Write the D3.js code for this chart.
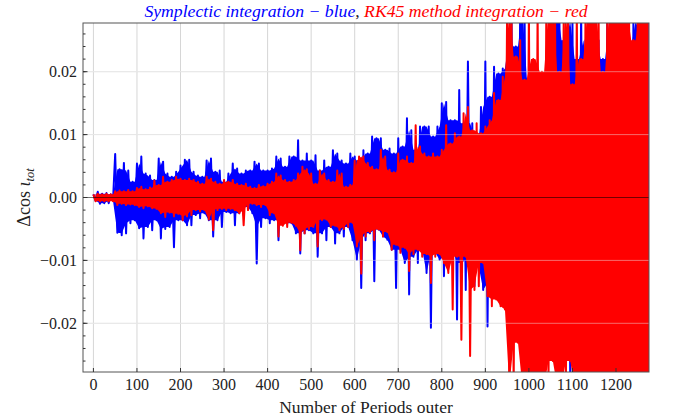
<!DOCTYPE html>
<html>
<head>
<meta charset="utf-8">
<script src="https://cdnjs.cloudflare.com/ajax/libs/d3/7.8.5/d3.min.js"></script>
<style>
body { margin: 0; background: #fff; }
svg text { font-family: "Liberation Serif", "Times New Roman", Tinos, "DejaVu Serif", serif; }
</style>
</head>
<body>
<svg id="chart" width="676" height="420"></svg>
<script>
"use strict";

/** Envelope of the signal per bin of 10 outer periods, values in units of 1e-3. */
var binStarts = d3.range(0, 1280, 10);

var blueHigh = [
    0.5, 0.9, 0.6, 0.7, 0.5, 6.9, 4.5, 5.5, 4.3, 2.5,
    5.4, 6.5, 3.8, 3.5, 2.8, 6.2, 5.7, 3.8, 3.3, 4.1,
    5.1, 6.0, 6.0, 4.1, 3.5, 3.3, 5.9, 6.2, 4.1, 4.3,
    2.5, 3.8, 5.4, 4.6, 3.8, 4.3, 4.3, 5.7, 5.4, 4.3,
    4.3, 4.6, 6.5, 6.2, 4.9, 6.5, 6.5, 9.1, 5.9, 7.0,
    5.9, 6.7, 4.3, 5.9, 4.9, 7.5, 7.0, 5.9, 5.4, 7.0,
    6.5, 5.9, 7.5, 7.0, 9.7, 9.4, 9.4, 7.6, 7.8, 7.0,
    9.4, 8.1, 12.6, 10.7, 7.6, 11.3, 11.3, 11.3, 9.7, 11.3,
    15.0, 15.2, 12.3, 12.3, 17.1, 11.8, 21.6, 11.8, 9.7, 14.4,
    21.6, 16.0, 20.8, 19.7, 20.5, 25.0, 30, 24.0, 30, 30,
    19.2, 14.4, 19.7, 19.2, 21.3, 30, 30, 30, 25, 30,
    28, 22, 30, 25, 20, 30, 25, 22, 28, 30,
    30, 25, 30, 24, 28, 30, 26, 30
];

var blueLow = [
    -0.5, -1.0, -0.9, -0.9, -0.5, -5.6, -6.0, -5.7, -4.1, -3.6,
    -4.9, -6.5, -4.7, -5.2, -3.6, -6.5, -5.0, -4.7, -7.9, -3.6,
    -3.6, -4.4, -4.4, -2.8, -3.3, -2.5, -3.6, -6.2, -3.6, -4.7,
    -2.3, -2.5, -4.4, -2.5, -2.8, -1.5, -2.5, -10.5, -4.7, -3.3,
    -4.1, -3.6, -6.8, -3.6, -4.1, -4.1, -5.7, -8.9, -5.7, -5.2,
    -5.7, -9.4, -5.7, -6.8, -4.7, -7.3, -5.7, -6.2, -4.7, -6.8,
    -9.9, -14.4, -6.8, -5.7, -13.3, -5.1, -6.2, -6.7, -8.3, -14.4,
    -8.3, -10.4, -15.4, -9.4, -10.4, -8.3, -12.0, -20.7, -8.8, -9.9,
    -12.5, -9.4, -8.3, -19.4, -10.4, -14.7, -9.9, -14.1, -11.0, -14.7,
    -20.5, -13.6, -14.7, -12.5, -16.2, -16.2, -18.4, -19.9, -21.0, -20.0,
    -20.5, -18.9, -17.3, -15.0, -18.4, -20, -20, -30, -22, -30,
    -22, -25, -30, -20, -22, -30, -20, -22, -25, -30,
    -30, -25, -30, -25, -25, -30, -28, -30
];

var redHigh = [
    0.5, 0.6, 0.5, 0.6, 0.5, 1.0, 1.1, 1.0, 1.2, 1.0,
    1.5, 1.7, 1.3, 1.6, 2.7, 2.0, 3.3, 2.5, 2.8, 3.3,
    3.0, 2.8, 3.0, 2.8, 2.5, 2.2, 3.3, 3.0, 2.5, 2.2,
    2.8, 2.5, 2.8, 2.2, 2.0, 2.2, 1.7, 1.5, 2.0, 1.8,
    2.2, 2.5, 3.8, 3.5, 2.8, 2.5, 2.8, 3.8, 4.9, 4.5,
    3.8, 2.2, 4.3, 3.8, 2.8, 2.5, 4.3, 3.8, 1.7, 2.0,
    5.9, 6.5, 6.5, 5.5, 4.9, 4.5, 7.6, 6.5, 4.4, 4.0,
    7.0, 6.0, 6.5, 5.5, 11.5, 8.1, 7.0, 6.5, 7.0, 6.5,
    7.6, 11.5, 8.6, 10.2, 9.7, 13.4, 14.4, 10.7, 11.8, 10.2,
    11.3, 12.3, 16.6, 15.5, 19.2, 30, 30, 22.4, 25.0, 18.7,
    30, 22, 30, 20, 30, 30, 30, 20, 30, 30,
    18, 30, 22, 30, 30, 30, 30, 20, 30, 30,
    30, 30, 30, 30, 25, 30, 30, 30
];

var redLow = [
    -0.6, -0.6, -0.6, -0.6, -0.6, -1.2, -1.0, -1.2, -1.1, -1.2,
    -1.5, -1.7, -1.4, -1.7, -1.8, -2.5, -3.1, -2.4, -3.0, -2.6,
    -3.6, -3.0, -2.8, -2.0, -2.2, -2.0, -3.5, -5.2, -2.0, -1.8,
    -2.0, -1.8, -2.0, -2.5, -4.4, -2.0, -1.0, -1.2, -1.5, -1.2,
    -2.8, -2.5, -6.2, -4.5, -4.7, -4.0, -4.5, -8.4, -5.7, -5.0,
    -4.7, -7.8, -3.6, -3.5, -4.7, -4.5, -5.2, -5.0, -4.7, -4.0,
    -7.8, -12.1, -6.2, -5.5, -6.8, -5.1, -6.2, -5.5, -8.3, -7.5,
    -8.8, -8.0, -11.7, -9.0, -8.3, -9.4, -9.0, -13.6, -9.4, -9.0,
    -10.4, -12.0, -17.8, -9.4, -22.6, -9.4, -25.2, -14.7, -14.1, -10.4,
    -15.7, -17.3, -16.2, -17.3, -17.8, -30, -30, -23.1, -30, -30,
    -30, -30, -30, -30, -30, -26, -30, -30, -30, -26,
    -30, -30, -30, -30, -30, -30, -30, -30, -30, -30,
    -30, -30, -30, -30, -30, -30, -30, -30
];

var xTicks = d3.range(0, 1300, 100);
var yTicks = [-0.02, -0.01, 0.00, 0.01, 0.02];
var yMinorTicks = d3.range(-0.026, 0.0261, 0.002);

var MARGIN = { left: 83, top: 23, right: 27, bottom: 48 };
var WIDTH = 676 - MARGIN.left - MARGIN.right;
var HEIGHT = 420 - MARGIN.top - MARGIN.bottom;

var svg = d3.select("#chart");

var xScale = d3.scaleLinear()
    .domain([-23.9, 1275.8])
    .range([0, WIDTH]);

var yScale = d3.scaleLinear()
    .domain([-0.02774, 0.02774])
    .range([HEIGHT, 0]);

var toBins = function(high, low) {
    return binStarts.map(function(n, i) {
        var next = Math.min(high.length - 1, i + 1);
        return {
            n: n,
            hi: high[i] * 1e-3,
            lo: low[i] * 1e-3,
            // solid core: the valley between this peak and the next one
            coreHi: Math.min(high[i], high[next]) * 1e-3,
            coreLo: Math.max(low[i], low[next]) * 1e-3
        };
    });
};

// high point at the start of each bin, low point half a bin later
var toZigzag = function(bins) {
    var pts = [];
    bins.forEach(function(d) {
        pts.push([d.n, d.hi]);
        pts.push([d.n + 5, d.lo]);
    });
    return pts;
};

svg.append("defs").append("clipPath")
    .attr("id", "plot-clip")
    .append("rect")
    .attr("width", WIDTH)
    .attr("height", HEIGHT);

var mainChart = svg.append("g")
    .attr("class", "main-chart")
    .attr("transform", "translate(" + MARGIN.left + "," + MARGIN.top + ")");

// grid behind
var grid = mainChart.append("g").attr("class", "grid");
grid.selectAll("line.vgrid")
    .data(xTicks)
    .enter().append("line")
    .attr("class", "vgrid")
    .attr("x1", function(d) { return xScale(d); })
    .attr("x2", function(d) { return xScale(d); })
    .attr("y1", 0)
    .attr("y2", HEIGHT)
    .attr("stroke", "#d6d6d6")
    .attr("stroke-width", 1);
grid.selectAll("line.hgrid")
    .data(yTicks.filter(function(d) { return d !== 0; }))
    .enter().append("line")
    .attr("class", "hgrid")
    .attr("x1", 0)
    .attr("x2", WIDTH)
    .attr("y1", function(d) { return yScale(d); })
    .attr("y2", function(d) { return yScale(d); })
    .attr("stroke", "#e3e3e3")
    .attr("stroke-width", 1);

var line = d3.line()
    .x(function(d) { return xScale(d[0]); })
    .y(function(d) { return yScale(d[1]); });

var band = d3.area()
    .x(function(d) { return xScale(d.n + 5); })
    .y0(function(d) { return yScale(d.coreLo); })
    .y1(function(d) { return yScale(d.coreHi); });

var series = mainChart.append("g")
    .attr("clip-path", "url(#plot-clip)");

var drawSeries = function(bins, color) {
    series.append("path")
        .datum(bins)
        .attr("d", band)
        .attr("fill", color)
        .attr("stroke", "none");
    series.append("path")
        .datum(toZigzag(bins))
        .attr("d", line)
        .attr("fill", "none")
        .attr("stroke", color)
        .attr("stroke-width", 2)
        .attr("stroke-linejoin", "round");
};

drawSeries(toBins(blueHigh, blueLow), "#0000ff");
drawSeries(toBins(redHigh, redLow), "#ff0000");

// faint grid rows and zero axis on top of the data
series.selectAll("line.hgrid-top")
    .data(yTicks.filter(function(d) { return d !== 0; }))
    .enter().append("line")
    .attr("class", "hgrid-top")
    .attr("x1", 0)
    .attr("x2", WIDTH)
    .attr("y1", function(d) { return yScale(d); })
    .attr("y2", function(d) { return yScale(d); })
    .attr("stroke", "#eeeeee")
    .attr("stroke-opacity", 0.45)
    .attr("stroke-width", 1);

series.append("line")
    .attr("x1", 0)
    .attr("x2", WIDTH)
    .attr("y1", yScale(0))
    .attr("y2", yScale(0))
    .attr("stroke", "#000")
    .attr("stroke-opacity", 0.55)
    .attr("stroke-width", 1);

// frame
mainChart.append("rect")
    .attr("width", WIDTH)
    .attr("height", HEIGHT)
    .attr("fill", "none")
    .attr("stroke", "#555")
    .attr("stroke-width", 1);

// left ticks (inside)
mainChart.selectAll("line.ytick-minor")
    .data(yMinorTicks)
    .enter().append("line")
    .attr("x1", 0)
    .attr("x2", 2.5)
    .attr("y1", function(d) { return yScale(d); })
    .attr("y2", function(d) { return yScale(d); })
    .attr("stroke", "#333");

mainChart.selectAll("line.ytick")
    .data(yTicks)
    .enter().append("line")
    .attr("x1", 0)
    .attr("x2", 4.5)
    .attr("y1", function(d) { return yScale(d); })
    .attr("y2", function(d) { return yScale(d); })
    .attr("stroke", "#333");

mainChart.selectAll("text.ylabel")
    .data(yTicks)
    .enter().append("text")
    .attr("x", -6)
    .attr("y", function(d) { return yScale(d); })
    .attr("dy", "0.33em")
    .attr("text-anchor", "end")
    .attr("font-size", 16)
    .attr("fill", "#222")
    .text(function(d) { return d3.format(".2f")(d).replace("-", "\u2212"); });

// bottom ticks (inside)
mainChart.selectAll("line.xtick")
    .data(xTicks)
    .enter().append("line")
    .attr("x1", function(d) { return xScale(d); })
    .attr("x2", function(d) { return xScale(d); })
    .attr("y1", HEIGHT)
    .attr("y2", HEIGHT - 4)
    .attr("stroke", "#333");

mainChart.selectAll("text.xlabel")
    .data(xTicks)
    .enter().append("text")
    .attr("x", function(d) { return xScale(d); })
    .attr("y", HEIGHT + 18)
    .attr("text-anchor", "middle")
    .attr("font-size", 16)
    .attr("fill", "#222")
    .text(function(d) { return d; });

// axis titles
svg.append("text")
    .attr("x", MARGIN.left + WIDTH / 2)
    .attr("y", 413)
    .attr("text-anchor", "middle")
    .attr("font-size", 17.5)
    .attr("fill", "#222")
    .text("Number of Periods outer");

var yTitle = svg.append("text")
    .attr("transform", "translate(30," + (MARGIN.top + HEIGHT / 2) + ") rotate(-90)")
    .attr("text-anchor", "middle")
    .attr("font-size", 18)
    .attr("fill", "#222");
yTitle.append("tspan").text("\u0394cos ");
yTitle.append("tspan").attr("font-style", "italic").text("\u03b9");
yTitle.append("tspan")
    .attr("font-style", "italic")
    .attr("font-size", 12.5)
    .attr("dy", 4)
    .text("tot");

var title = svg.append("text")
    .attr("x", MARGIN.left + WIDTH / 2)
    .attr("y", 17)
    .attr("text-anchor", "middle")
    .attr("font-size", 17.7);
title.append("tspan")
    .attr("font-style", "italic")
    .attr("fill", "#0000ff")
    .text("Symplectic integration \u2212 blue");
title.append("tspan")
    .attr("fill", "#222")
    .text(", ");
title.append("tspan")
    .attr("font-style", "italic")
    .attr("fill", "#ff0000")
    .text("RK45 method integration \u2212 red");
</script>
</body>
</html>
